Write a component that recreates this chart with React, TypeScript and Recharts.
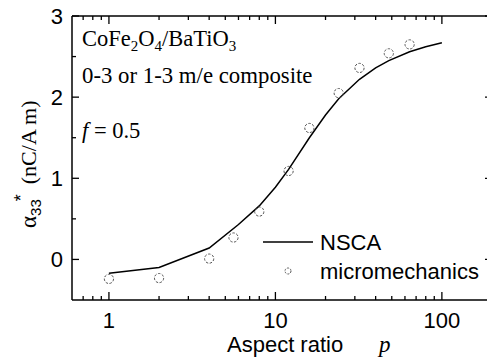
import { ComposedChart, Legend, Line, Scatter, XAxis, YAxis } from "recharts"

// NSCA curve
const nscaP = [1, 2, 4, 6, 8, 10, 12, 16, 20, 24, 32, 40, 48, 64, 80, 100]
const nscaA = [-0.17, -0.1, 0.14, 0.43, 0.66, 0.89, 1.11, 1.5, 1.78, 1.98, 2.22, 2.36, 2.45, 2.56, 2.62, 2.67]

// micromechanics points
const microP = [1, 2, 4, 5.6, 8, 12, 16, 24, 32, 48, 64]
const microA = [-0.24, -0.23, 0.01, 0.27, 0.59, 1.09, 1.62, 2.05, 2.36, 2.54, 2.65]

const xMajor = [1, 10, 100]
const xMinor = [0.7, 0.8, 0.9, 2, 3, 4, 5, 6, 7, 8, 9, 20, 30, 40, 50, 60, 70, 80, 90]
const yMajor = [0, 1, 2, 3]
const yMinor = [0.5, 1.5, 2.5]

const nscaData = nscaP.map((p, i) => ({ p, a: nscaA[i] }))
const microData = microP.map((p, i) => ({ p, a: microA[i] }))

const SANS = "'Liberation Sans', Arial, sans-serif"
const SERIF = "'Liberation Serif', 'Times New Roman', serif"
const xTicks = [...xMinor, ...xMajor].sort((a, b) => a - b)
const yTicks = [...yMajor, ...yMinor].sort((a, b) => a - b)

const BottomTick = ({ x, y, payload }: any) => {
  const major = xMajor.includes(payload.value)
  return (
    <g>
      <line x1={x} x2={x} y1={y} y2={y - (major ? 8 : 4)} stroke="#000" strokeWidth={1.3} />
      {major && (
        <text x={x} y={y + 28} textAnchor="middle" fontSize={22} fontFamily={SANS} fill="#000">
          {payload.value}
        </text>
      )}
    </g>
  )
}

const TopTick = ({ x, y, payload }: any) => {
  const major = xMajor.includes(payload.value)
  return <line x1={x} x2={x} y1={y} y2={y + (major ? 8 : 4)} stroke="#000" strokeWidth={1.3} />
}

const LeftTick = ({ x, y, payload }: any) => {
  const major = yMajor.includes(payload.value)
  return (
    <g>
      <line x1={x} x2={x + (major ? 7 : 4)} y1={y} y2={y} stroke="#000" strokeWidth={1.3} />
      {major && (
        <text x={x - 9} y={y} dy="0.36em" textAnchor="end" fontSize={22} fontFamily={SANS} fill="#000">
          {payload.value}
        </text>
      )}
    </g>
  )
}

const RightTick = ({ x, y, payload }: any) => {
  const major = yMajor.includes(payload.value)
  return <line x1={x} x2={x - (major ? 7 : 4)} y1={y} y2={y} stroke="#000" strokeWidth={1.3} />
}

const Circle = ({ cx, cy }: any) => (
  <circle cx={cx} cy={cy} r={4.6} fill="none" stroke="#555" strokeWidth={1} strokeDasharray="2.5 1.5" />
)

const XTitle = () => (
  <text x={227} y={352} fontSize={22} fontFamily={SANS} fill="#000">
    Aspect ratio
    <tspan x={379} fontFamily={SERIF} fontStyle="italic" fontSize={23}>p</tspan>
  </text>
)

const YTitle = () => (
  <text transform="rotate(-90 36 228)" x={36} y={228} fill="#000">
    <tspan fontFamily={SERIF} fontSize={23}>α</tspan>
    <tspan fontFamily={SANS} fontSize={15} dy={5}>33</tspan>
    <tspan fontFamily={SANS} fontSize={18} dy={-14} dx={-2}>*</tspan>
    <tspan fontFamily={SERIF} fontSize={22} dy={9} dx={10}>(nC/A m)</tspan>
  </text>
)

const Notes = () => (
  <svg width={493} height={362} style={{ display: "block" }}>
    <text x={82} y={46} fontSize={22.5} fontFamily={SERIF} fill="#000">
      CoFe<tspan fontSize={15} dy={5}>2</tspan>
      <tspan dy={-5}>O</tspan><tspan fontSize={15} dy={5}>4</tspan>
      <tspan dy={-5}>/BaTiO</tspan><tspan fontSize={15} dy={5}>3</tspan>
    </text>
    <text x={82} y={83} fontSize={22.8} fontFamily={SERIF} fill="#000">0-3 or 1-3 m/e composite</text>
    <text x={82} y={138} fontSize={22.5} fontFamily={SERIF} fill="#000">
      <tspan fontStyle="italic">f</tspan> = 0.5
    </text>
    <line x1={263} x2={313} y1={242} y2={242} stroke="#000" strokeWidth={1.5} />
    <text x={320} y={250} fontSize={22} fontFamily={SANS} fill="#000">NSCA</text>
    <circle cx={288} cy={271} r={3} fill="none" stroke="#555" strokeWidth={1} strokeDasharray="2 1.2" />
    <text x={320} y={279} fontSize={22} fontFamily={SANS} fill="#000">micromechanics</text>
  </svg>
)

export default function App() {
  return (
    <div style={{ width: 487, height: 362, overflow: "hidden", background: "#fff" }}>
      <style>{"body{margin:0}"}</style>
      <ComposedChart width={493} height={362} margin={{ top: 15, right: 0, bottom: 61, left: 0 }}>
        <XAxis
          dataKey="p"
          type="number"
          scale="log"
          domain={[0.6, 200]}
          ticks={xTicks}
          allowDataOverflow
          height={1}
          stroke="#000"
          strokeWidth={1.5}
          tickLine={false}
          tickSize={0}
          tickMargin={0}
          tick={<BottomTick />}
          interval={0}
          label={<XTitle />}
        />
        <XAxis
          xAxisId="top"
          orientation="top"
          dataKey="p"
          type="number"
          scale="log"
          domain={[0.6, 200]}
          ticks={xTicks}
          allowDataOverflow
          height={1}
          stroke="#000"
          strokeWidth={1.5}
          tickLine={false}
          tickSize={0}
          tickMargin={0}
          tick={<TopTick />}
          interval={0}
        />
        <YAxis
          type="number"
          domain={[-0.5, 3]}
          ticks={yTicks}
          allowDataOverflow
          width={72}
          stroke="#000"
          strokeWidth={1.5}
          tickLine={false}
          tickSize={0}
          tickMargin={0}
          tick={<LeftTick />}
          interval={0}
          label={<YTitle />}
        />
        <YAxis
          yAxisId="r"
          orientation="right"
          type="number"
          domain={[-0.5, 3]}
          ticks={yTicks}
          allowDataOverflow
          width={1}
          stroke="#000"
          strokeWidth={1.5}
          tickLine={false}
          tickSize={0}
          tickMargin={0}
          tick={<RightTick />}
          interval={0}
        />
        <Line
          data={nscaData}
          dataKey="a"
          type="linear"
          stroke="#000"
          strokeWidth={1.5}
          dot={false}
          isAnimationActive={false}
        />
        <Scatter data={microData} dataKey="a" shape={<Circle />} isAnimationActive={false} />
        <Legend
          verticalAlign="middle"
          align="center"
          layout="horizontal"
          wrapperStyle={{ left: 0, top: 0, width: 493, height: 362, pointerEvents: "none" }}
          content={() => <Notes />}
        />
      </ComposedChart>
    </div>
  )
}
